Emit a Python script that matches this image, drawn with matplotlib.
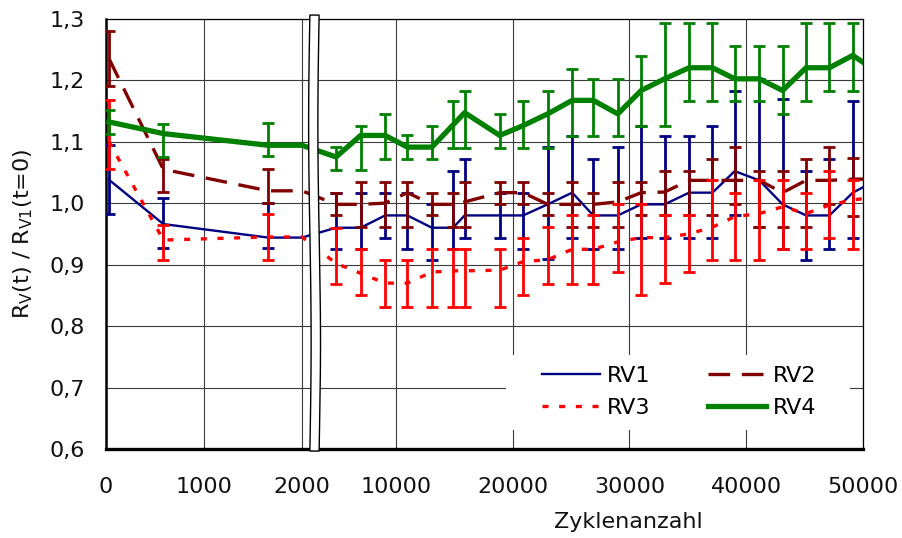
import numpy as np
import matplotlib
matplotlib.use('Agg')
import matplotlib.pyplot as plt
from matplotlib.patches import Polygon, Rectangle
from matplotlib.transforms import blended_transform_factory

# Zyklen; der Punkt bei 2000 fuehrt den letzten Kurzzeitwert bis zum Achsenbruch
zyklen = [30, 585, 1655, 2000,
          4900, 7000, 9100, 11000, 13100, 14900, 15900, 18900, 20900, 23000,
          25100, 26900, 29000, 31000, 33000, 35100, 37100, 39000, 41100, 43100,
          45100, 47100, 49100, 51000]

rv1 = [1.038, 0.966, 0.944, 0.944,
       0.960, 0.960, 0.980, 0.980, 0.960, 0.960, 0.980, 0.980, 0.980, 0.998,
       1.017, 0.980, 0.980, 0.998, 0.998, 1.017, 1.017, 1.052, 1.037, 0.998,
       0.980, 0.980, 1.017, 1.036]
rv1_min = [0.982, 0.927, 0.927, np.nan,
           0.925, 0.925, 0.944, 0.925, 0.907, 0.925, 0.944, 0.944, 0.925, 0.910,
           0.944, 0.925, 0.925, 0.944, 0.944, 0.944, 0.944, 0.980, 0.961, 0.925,
           0.907, 0.925, 0.944, np.nan]
rv1_max = [1.094, 1.009, 1.000, np.nan,
           1.017, 1.017, 1.017, 1.017, 0.998, 1.052, 1.072, 1.017, 1.017, 1.091,
           1.109, 1.072, 1.091, 1.126, 1.109, 1.109, 1.126, 1.183, 1.202, 1.170,
           1.053, 1.072, 1.166, np.nan]

rv2 = [1.235, 1.055, 1.020, 1.020,
       0.998, 0.998, 1.000, 1.017, 0.998, 0.998, 1.002, 1.017, 1.017, 0.998,
       0.998, 0.998, 1.002, 1.017, 1.018, 1.037, 1.037, 1.037, 1.037, 1.017,
       1.037, 1.037, 1.039, 1.039]
rv2_min = [1.190, 1.018, 1.000, np.nan,
           0.980, 0.961, 0.961, 0.961, 0.980, 0.961, 0.961, 0.998, 0.998, 0.980,
           0.961, 0.961, 0.961, 0.980, 0.980, 0.980, 0.980, 0.998, 0.961, 0.961,
           0.961, 0.999, 0.979, np.nan]
rv2_max = [1.280, 1.072, 1.055, np.nan,
           1.017, 1.035, 1.035, 1.035, 1.017, 1.017, 1.035, 1.035, 1.035, 1.017,
           1.035, 1.017, 1.035, 1.035, 1.052, 1.052, 1.072, 1.091, 1.052, 1.052,
           1.072, 1.091, 1.073, np.nan]

rv3 = [1.100, 0.940, 0.945, 0.945,
       0.902, 0.886, 0.870, 0.870, 0.888, 0.890, 0.890, 0.891, 0.905, 0.908,
       0.925, 0.925, 0.937, 0.944, 0.944, 0.950, 0.961, 0.978, 0.983, 0.994,
       0.983, 0.997, 1.005, 1.010]
rv3_min = [1.056, 0.907, 0.908, np.nan,
           0.868, 0.850, 0.832, 0.832, 0.832, 0.832, 0.832, 0.832, 0.850, 0.868,
           0.868, 0.868, 0.888, 0.850, 0.870, 0.888, 0.907, 0.907, 0.907, 0.925,
           0.925, 0.944, 0.925, np.nan]
rv3_max = [1.167, 0.965, 0.982, np.nan,
           0.960, 0.925, 0.907, 0.907, 0.925, 0.925, 0.925, 0.925, 0.944, 0.961,
           0.980, 0.980, 0.998, 0.998, 0.980, 0.980, 1.037, 1.017, 1.037, 1.037,
           1.017, 1.052, 1.037, np.nan]

rv4 = [1.132, 1.113, 1.094, 1.094,
       1.075, 1.110, 1.110, 1.091, 1.091, 1.127, 1.147, 1.110, 1.126, 1.145,
       1.167, 1.167, 1.145, 1.183, 1.202, 1.220, 1.220, 1.202, 1.202, 1.183,
       1.220, 1.220, 1.240, 1.216]
rv4_min = [1.113, 1.075, 1.076, np.nan,
           1.054, 1.054, 1.072, 1.072, 1.072, 1.090, 1.090, 1.090, 1.090, 1.090,
           1.109, 1.109, 1.109, 1.126, 1.126, 1.166, 1.166, 1.166, 1.166, 1.145,
           1.166, 1.183, 1.183, np.nan]
rv4_max = [1.151, 1.129, 1.130, np.nan,
           1.091, 1.126, 1.145, 1.110, 1.126, 1.166, 1.183, 1.145, 1.166, 1.183,
           1.218, 1.202, 1.202, 1.239, 1.293, 1.293, 1.293, 1.256, 1.256, 1.256,
           1.293, 1.293, 1.293, np.nan]

x_ticks = [0, 1000, 2000, 10000, 20000, 30000, 40000, 50000]
y_ticks = [0.6, 0.7, 0.8, 0.9, 1.0, 1.1, 1.2, 1.3]

# gebrochene x-Achse: 0..2060 gestreckt, 3525..50000 gestaucht
brk_x = [-10000, 0, 2060, 3525, 50000, 100000]
brk_p = [-980, 0, 201.9, 214.0, 757.3, 1341.8]


def fwd(x):
    return np.interp(x, brk_x, brk_p)


def inv(p):
    return np.interp(p, brk_p, brk_x)


plt.rcParams['font.family'] = ['DejaVu Sans']

fig = plt.figure(figsize=(9.02, 5.38), dpi=100)
ax = fig.add_axes([0.1175, 0.1649, 0.8396, 0.8007])
ax.set_xscale('function', functions=(fwd, inv))

series = [
    ('RV1', rv1, rv1_min, rv1_max, dict(color='#000080', lw=1.7)),
    ('RV2', rv2, rv2_min, rv2_max, dict(color='#800000', lw=2.4, dashes=(6.5, 3.5))),
    ('RV3', rv3, rv3_min, rv3_max, dict(color='#ff0000', lw=2.4, dashes=(1.8, 3.2))),
    ('RV4', rv4, rv4_min, rv4_max, dict(color='#008000', lw=3.8)),
]

x = np.array(zyklen, dtype=float)
handles = {}
for i, (name, y, lo, hi, style) in enumerate(series):
    y = np.array(y)
    lo = np.array(lo)
    hi = np.array(hi)
    z = 3 + i
    line, = ax.plot(x, y, label=name, zorder=z, **style)
    handles[name] = line
    m = ~np.isnan(lo)
    ax.errorbar(x[m], y[m], yerr=[y[m] - lo[m], hi[m] - y[m]], fmt='none',
                ecolor=style['color'], elinewidth=2.0, capsize=4.3,
                capthick=2.0, zorder=z)

ax.set_xlim(0, 50000)
ax.set_ylim(0.6, 1.3)
ax.set_xticks(x_ticks)
ax.set_xticklabels([str(t) for t in x_ticks])
ax.set_yticks(y_ticks)
ax.set_yticklabels([('%.1f' % t).replace('.', ',') for t in y_ticks])
ax.tick_params(axis='both', length=0, labelsize=16, colors='#111111')
ax.tick_params(axis='x', pad=20)
ax.tick_params(axis='y', pad=15)

ax.grid(True, color='#3a3a3a', lw=0.8)
ax.set_axisbelow(True)

for s in ['top', 'right']:
    ax.spines[s].set_linewidth(0.9)
ax.spines['left'].set_linewidth(1.8)
ax.spines['bottom'].set_linewidth(2.4)

ax.set_xlabel('Zyklenanzahl', fontsize=16, color='#111111')
ax.xaxis.set_label_coords(0.69, -0.145)
ax.set_ylabel('R$_{\\mathregular{V}}$(t) / R$_{\\mathregular{V1}}$(t=0)',
              fontsize=16, color='#111111')
ax.yaxis.set_label_coords(-0.094, 0.5)

# Achsenbruch
trans = blended_transform_factory(ax.transData, ax.transAxes)
t = np.linspace(0, 1, 40)
yy = -0.004 + t * 1.012
left_edge = 2300 + 150 * np.sin(2 * np.pi * t)
right_edge = 3420 + 150 * np.sin(2 * np.pi * t)
pts = np.vstack([np.column_stack([left_edge, yy]),
                 np.column_stack([right_edge[::-1], yy[::-1]])])
ax.add_patch(Polygon(pts, closed=True, facecolor='white', edgecolor='black',
                     lw=1.0, transform=trans, zorder=10, clip_on=False))

# weisser Hintergrund der Legende
ax.add_patch(Rectangle((0.528, 0.045), 0.455, 0.175, transform=ax.transAxes,
                       facecolor='white', edgecolor='none', zorder=1.5))
order = ['RV1', 'RV3', 'RV2', 'RV4']
ax.legend([handles[n] for n in order], order, ncol=2, loc='center',
          bbox_to_anchor=(0.757, 0.133), frameon=False, fontsize=16,
          handlelength=2.6, handletextpad=0.3, columnspacing=2.6,
          labelspacing=0.55)

fig.savefig('out.png', dpi=100)
